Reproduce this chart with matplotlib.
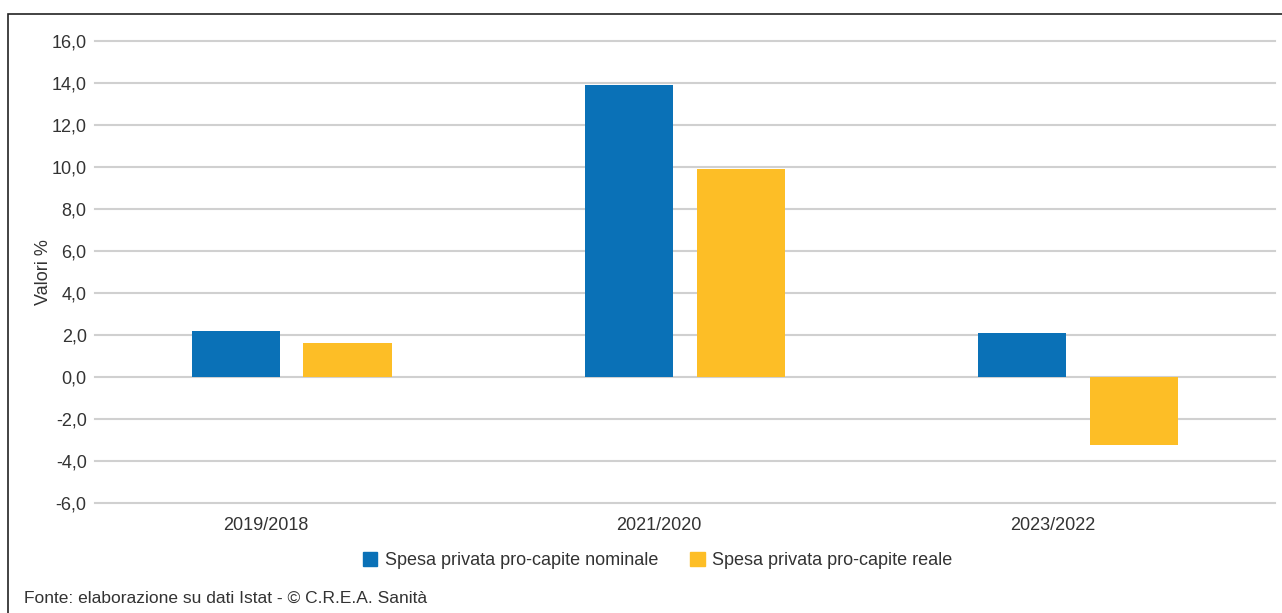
import matplotlib

matplotlib.use("Agg")

import matplotlib.pyplot as plt
import matplotlib.transforms as mtransforms
import numpy as np
from matplotlib.patches import Rectangle

# values
categories = ["2019/2018", "2021/2020", "2023/2022"]
nominale = [2.2, 13.9, 2.1]
reale = [1.6, 9.9, -3.25]
series_labels = ["Spesa privata pro-capite nominale", "Spesa privata pro-capite reale"]
yticks = np.arange(-6, 17, 2)

BLUE = "#0a71b7"
YELLOW = "#fdbe26"
TXT = "#333333"

plt.rcParams["font.family"] = ["Liberation Sans Narrow", "Liberation Sans", "DejaVu Sans"]

fig = plt.figure(figsize=(12.82, 6.13), dpi=100)
ax = fig.add_axes([0.0741, 0.1794, 0.9204, 0.7537])

x = np.arange(len(categories))
w = 0.224
ax.bar(x - 0.142, nominale, w, color=BLUE, zorder=3)
ax.bar(x + 0.142, reale, w, color=YELLOW, zorder=3)

ax.set_xlim(-0.5, 2.5)
ax.set_ylim(-6, 16)
ax.set_yticks(yticks)
ax.set_yticklabels([f"{v:.1f}".replace(".", ",") for v in yticks])
ax.grid(axis="y", color="#d0d0d0", linewidth=1.5, zorder=0)
for gl in ax.get_ygridlines():
    gl.set_clip_on(False)  # keep the edge lines (16 and -6) full width
ax.set_xticks(x)
ax.set_xticklabels(categories)
for s in ax.spines.values():
    s.set_visible(False)
ax.tick_params(axis="both", length=0, labelsize=13, colors=TXT, pad=6)
ax.tick_params(axis="x", pad=10)
# category labels sit a little left of the bar groups
off = mtransforms.ScaledTranslation(-0.26, 0, fig.dpi_scale_trans)
for lab in ax.get_xticklabels():
    lab.set_transform(lab.get_transform() + off)

ax.set_ylabel("Valori %", fontsize=13, color=TXT, labelpad=0)

handles = [Rectangle((0, 0), 1, 1, color=BLUE), Rectangle((0, 0), 1, 1, color=YELLOW)]
fig.legend(handles, series_labels, loc="center", bbox_to_anchor=(0.513, 0.086),
           ncol=2, frameon=False, fontsize=13, handlelength=0.8, handleheight=0.8,
           handletextpad=0.4, columnspacing=1.8, labelcolor=TXT)

fig.text(0.019, 0.024, "Fonte: elaborazione su dati Istat - \u00a9 C.R.E.A. Sanit\u00e0",
         fontsize=12.5, color=TXT, va="center", ha="left")

# outer frame
fig.add_artist(Rectangle((0.0065, -0.05), 1.05, 0.977 + 0.05, transform=fig.transFigure,
                         fill=False, edgecolor="#222222", linewidth=1.2))

fig.savefig("out.png", dpi=100)
